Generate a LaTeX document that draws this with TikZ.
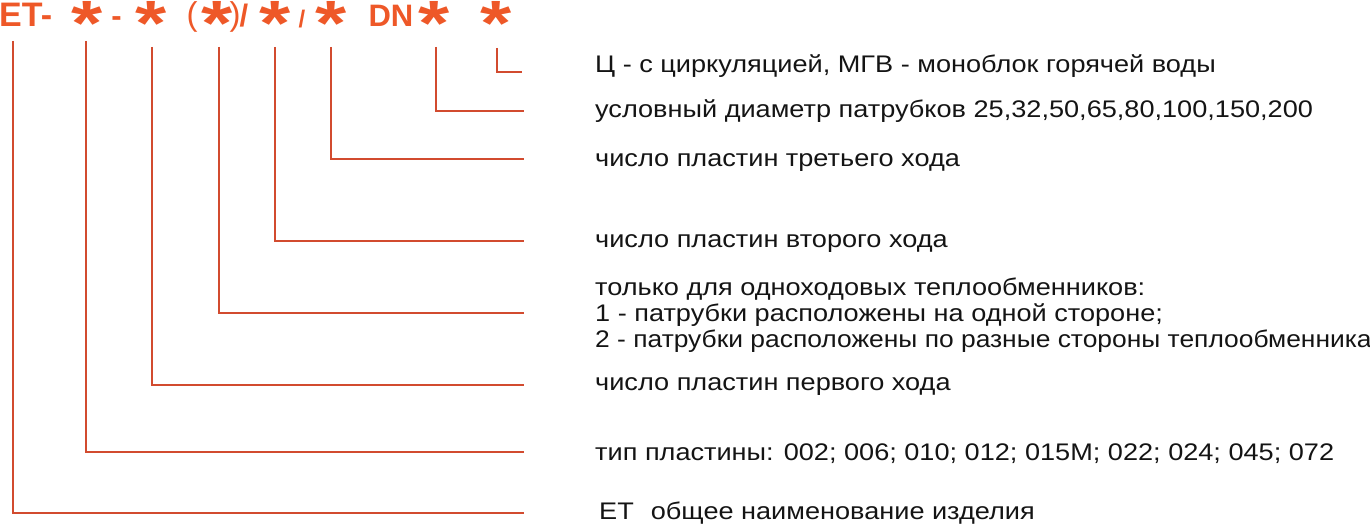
\documentclass[tikz,border=0pt]{standalone}
\usepackage{fontspec}
\setmainfont{Liberation Sans}
\newfontfamily\lblfont[FakeStretch=1.13]{Liberation Sans}
\newfontfamily\lblfontb[FakeStretch=1.10]{Liberation Sans}
\definecolor{hdr}{RGB}{238,88,40}
\definecolor{ln}{RGB}{210,75,47}
\definecolor{txt}{RGB}{20,20,20}
\begin{document}
\begin{tikzpicture}[x=1pt,y=-1pt,
  hd/.style={inner sep=0pt, text=hdr, font=\fontsize{31}{31}\selectfont\bfseries, anchor=base},
  hdr/.style={inner sep=0pt, text=hdr, font=\fontsize{33}{33}\selectfont, anchor=base},
  ast/.style={inner sep=0pt, text=hdr, font=\fontsize{80}{80}\selectfont\bfseries, anchor=base},
  lbl/.style={inner sep=0pt, text=txt, font=\lblfont\fontsize{24}{26}\selectfont, anchor=base west},
  conn/.style={draw=ln, line width=2.6pt, line join=miter}]
\useasboundingbox (0,0) rectangle (1370,526);
% header
\node[hd, anchor=base west, font=\fontsize{34}{34}\selectfont\bfseries] (et) at (-1,27) {ET-};
\node[ast] (s1) at (87,46) {\scalebox{1}[0.8]{*}};
\node[hd] (d1) at (116.5,27) {-};
\node[ast] (s2) at (151,46) {\scalebox{1}[0.8]{*}};
\node[hdr] (po) at (192,26) {(};
\node[ast] (s3) at (217,46) {\scalebox{1}[0.8]{*}};
\node[hdr] (pc) at (235,26) {)};
\node[hd] (sl1) at (244,27) {/};
\node[ast] (s4) at (275,46) {\scalebox{1}[0.8]{*}};
\node[hd, font=\fontsize{24}{24}\selectfont\bfseries] (sl2) at (302,28) {/};
\node[ast] (s5) at (331,46) {\scalebox{1}[0.8]{*}};
\node[hd] (dn) at (391,27) {DN};
\node[ast] (s6) at (434,46) {\scalebox{1}[0.8]{*}};
\node[ast] (s7) at (496,46) {\scalebox{1}[0.8]{*}};
% labels
\node[lbl] (l7) at (595,73) {Ц - с циркуляцией, МГВ - моноблок горячей воды};
\node[lbl] (l6) at (595,118) {условный диаметр патрубков 25,32,50,65,80,100,150,200};
\node[lbl] (l5) at (595,167) {число пластин третьего хода};
\node[lbl] (l4) at (595,248) {число пластин второго хода};
\node[lbl] (l3a) at (595,296) {только для одноходовых теплообменников:};
\node[lbl] (l3) at (595,322) {1 - патрубки расположены на одной стороне;};
\node[lbl, font=\lblfontb\fontsize{24}{26}\selectfont] (l3c) at (595,348) {2 - патрубки расположены по разные стороны теплообменника};
\node[lbl] (l2) at (595,390) {число пластин первого хода};
\node[lbl] (l1) at (595,460) {тип пластины: 002; 006; 010; 012; 015М; 022; 024; 045; 072};
\node[lbl] (l0) at (599,519) {ET\hspace{17pt}общее наименование изделия};
% connector ends
\coordinate (t0) at (13,41);  \coordinate (e0) at (524,513);
\coordinate (t1) at (86,41);  \coordinate (e1) at (524,452);
\coordinate (t2) at (152,47); \coordinate (e2) at (524,385);
\coordinate (t3) at (219,47); \coordinate (e3) at (524,313);
\coordinate (t4) at (275,47); \coordinate (e4) at (524,241);
\coordinate (t5) at (331,47); \coordinate (e5) at (524,159);
\coordinate (t6) at (436,47); \coordinate (e6) at (524,111);
\coordinate (t7) at (497,48); \coordinate (e7) at (522,72);
\foreach \i in {0,...,7} { \draw[conn] (t\i) |- (e\i); }
\end{tikzpicture}
\end{document}
